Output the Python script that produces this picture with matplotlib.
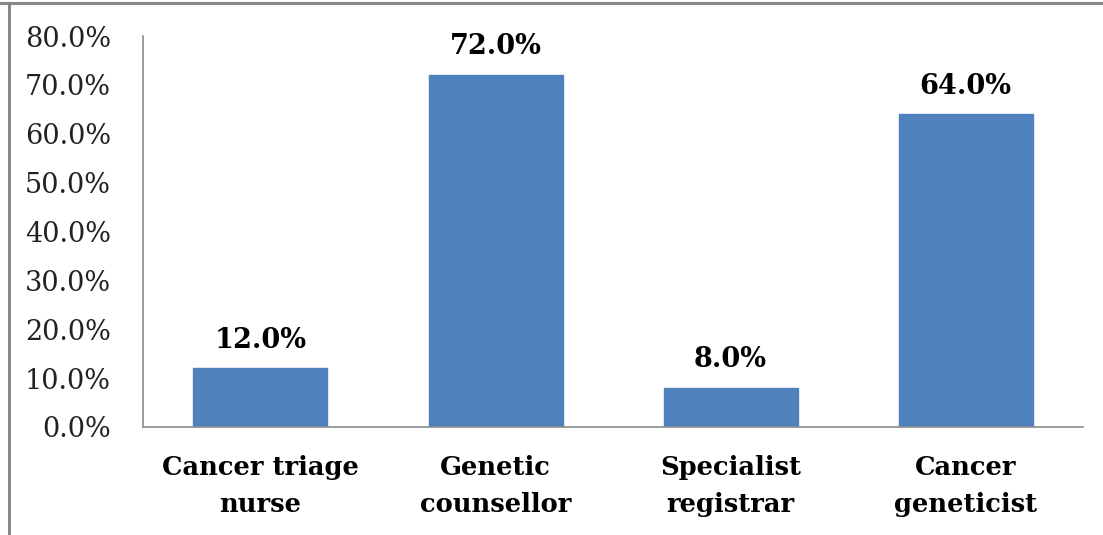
import matplotlib
matplotlib.use('Agg')
import matplotlib.pyplot as plt
from matplotlib.lines import Line2D
import numpy as np

# ─── DATOS ───────────────────────────────────────────────────────────────────
categorias = ['Cancer triage\nnurse', 'Genetic\ncounsellor',
              'Specialist\nregistrar', 'Cancer\ngeneticist']
valores = [12.0, 72.0, 8.0, 64.0]
yticks = [0, 10, 20, 30, 40, 50, 60, 70, 80]

plt.rcParams['font.family'] = ['DejaVu Serif']

fig = plt.figure(figsize=(11.03, 5.35), dpi=100)
ax = fig.add_axes([0.1296, 0.2019, 0.8524, 0.7308])

x = np.arange(len(categorias))
bars = ax.bar(x, valores, 0.57, color='#4F81BD', edgecolor='#4F81BD')

for bar, v in zip(bars, valores):
    ax.text(bar.get_x() + bar.get_width() / 2, v + 3.0, f'{v:.1f}%',
            ha='center', va='bottom', fontsize=19.5, fontweight='bold')

ax.set_xlim(-0.5, len(categorias) - 0.5)
ax.set_ylim(0, 80)
ax.set_yticks(yticks)
ax.set_yticklabels([f'{t:.1f}%' for t in yticks], fontsize=19.5, color='#222222')
ax.set_xticks(x)
ax.set_xticklabels(categorias, fontsize=18.5, fontweight='bold', linespacing=1.6)
ax.tick_params(axis='both', length=0)
ax.tick_params(axis='y', pad=23)
ax.tick_params(axis='x', pad=20)

for s in ['top', 'right']:
    ax.spines[s].set_visible(False)
for s in ['left', 'bottom']:
    ax.spines[s].set_color('#8C8C8C')
    ax.spines[s].set_linewidth(1.2)

# marco exterior (arriba e izquierda)
fig.add_artist(Line2D([0, 1], [0.995, 0.995], color='#888888', lw=2.2,
                      transform=fig.transFigure))
fig.add_artist(Line2D([0.0085, 0.0085], [0, 0.995], color='#888888', lw=2.2,
                      transform=fig.transFigure))

fig.savefig('out.png', dpi=100)
